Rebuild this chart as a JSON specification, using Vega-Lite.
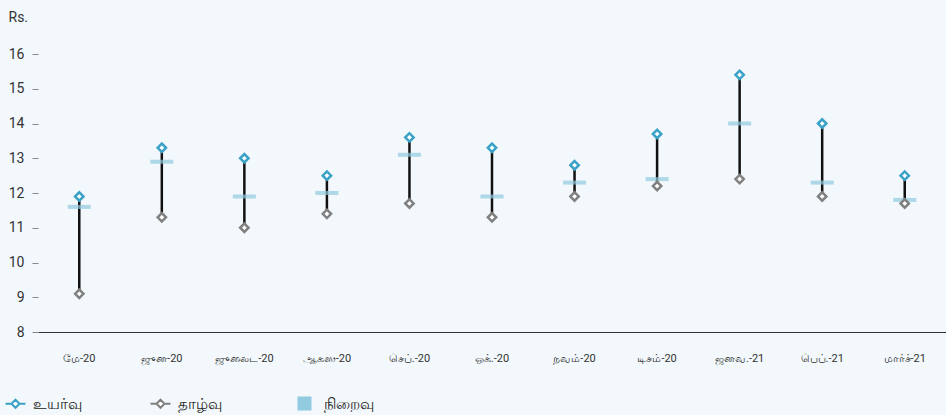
{
  "$schema": "https://vega.github.io/schema/vega-lite/v6.json",
  "width": 908,
  "height": 278,
  "autosize": "none",
  "padding": {"left": 38, "top": 54, "right": 0, "bottom": 83},
  "background": "#f2f8fb",
  "config": {
    "view": {"stroke": null},
    "font": "Roboto",
    "axis": {"labelColor": "#333333", "titleColor": "#333333", "grid": false},
    "axisY": {"title": "Rs.", "titleAngle": 0, "titleAlign": "left", "titleBaseline": "middle",
              "titleX": -30, "titleY": -37, "titleFontSize": 14, "titleFontWeight": "normal",
              "labelOverlap": false, "domain": false,
              "tickSize": 6, "tickColor": "#888888", "labelPadding": 8, "labelFontSize": 14}
  },
  "data": {
    "values": [
      {"month": "மே-20", "high": 11.9, "avg": 11.6, "low": 9.1},
      {"month": "ஜுன-20", "high": 13.3, "avg": 12.9, "low": 11.3},
      {"month": "ஜுலைட-20", "high": 13.0, "avg": 11.9, "low": 11.0},
      {"month": "ஆகஸ-20", "high": 12.5, "avg": 12.0, "low": 11.4},
      {"month": "செப்.-20", "high": 13.6, "avg": 13.1, "low": 11.7},
      {"month": "ஒக்.-20", "high": 13.3, "avg": 11.9, "low": 11.3},
      {"month": "நவம்-20", "high": 12.8, "avg": 12.3, "low": 11.9},
      {"month": "டிசம்-20", "high": 13.7, "avg": 12.4, "low": 12.2},
      {"month": "ஜனவ.-21", "high": 15.4, "avg": 14.0, "low": 12.4},
      {"month": "பெப்.-21", "high": 14.0, "avg": 12.3, "low": 11.9},
      {"month": "மார்ச்-21", "high": 12.5, "avg": 11.8, "low": 11.7}
    ]
  },
  "encoding": {
    "x": {
      "field": "month", "type": "nominal", "sort": null,
      "scale": {"paddingInner": 0, "paddingOuter": 0},
      "axis": {"title": null, "labelAngle": 0, "ticks": false, "labelPadding": 20, "labelFontSize": 11,
               "domainColor": "#333333", "domainWidth": 1}
    }
  },
  "layer": [
    {
      "mark": {"type": "rule", "color": "#111111", "strokeWidth": 2.5},
      "encoding": {
        "y": {
          "field": "low", "type": "quantitative",
          "scale": {"domain": [8, 16], "nice": false, "zero": false},
          "axis": {"title": "Rs.", "values": [8, 9, 10, 11, 12, 13, 14, 15, 16]}
        },
        "y2": {"field": "high"}
      }
    },
    {
      "mark": {"type": "tick", "thickness": 4, "size": 23},
      "encoding": {
        "y": {"field": "avg", "type": "quantitative", "axis": {"title": "Rs.", "values": [8, 9, 10, 11, 12, 13, 14, 15, 16]}},
        "fill": {
          "datum": "நிறைவு",
          "scale": {"range": ["#92cbe0"]},
          "legend": {
            "title": null, "orient": "none", "legendX": 259, "legendY": 342, "padding": 0,
            "symbolType": "M-1.4,-1.4H1.4V1.4H-1.4Z", "symbolSize": 100, "symbolStrokeWidth": 0,
            "symbolOpacity": 1, "symbolFillColor": "#92cbe0",
            "labelFontSize": 15, "labelColor": "#222222", "labelOffset": 12
          }
        }
      }
    },
    {
      "transform": [{"fold": ["high", "low"], "as": ["series", "value"]}],
      "mark": {"type": "point", "shape": "diamond", "filled": true, "fill": "white", "size": 70, "strokeWidth": 2.5, "opacity": 1},
      "encoding": {
        "y": {"field": "value", "type": "quantitative", "axis": {"title": "Rs.", "values": [8, 9, 10, 11, 12, 13, 14, 15, 16]}},
        "stroke": {
          "field": "series", "type": "nominal",
          "scale": {"domain": ["high", "low"], "range": ["#3aa1c7", "#808080"]},
          "legend": {
            "title": null, "orient": "none", "direction": "horizontal",
            "legendX": -30, "legendY": 342, "padding": 0,
            "gridAlign": "all", "columnPadding": 64,
            "symbolType": "M-2,0H-0.8M0.8,0H2M0,-0.8L0.8,0L0,0.8L-0.8,0Z",
            "symbolSize": 100, "symbolStrokeWidth": 2, "symbolFillColor": "white", "symbolOpacity": 1,
            "labelFontSize": 15, "labelColor": "#222222", "labelOffset": 10,
            "labelExpr": "datum.label == 'high' ? 'உயர்வு' : 'தாழ்வு'"
          }
        }
      }
    }
  ]
}
